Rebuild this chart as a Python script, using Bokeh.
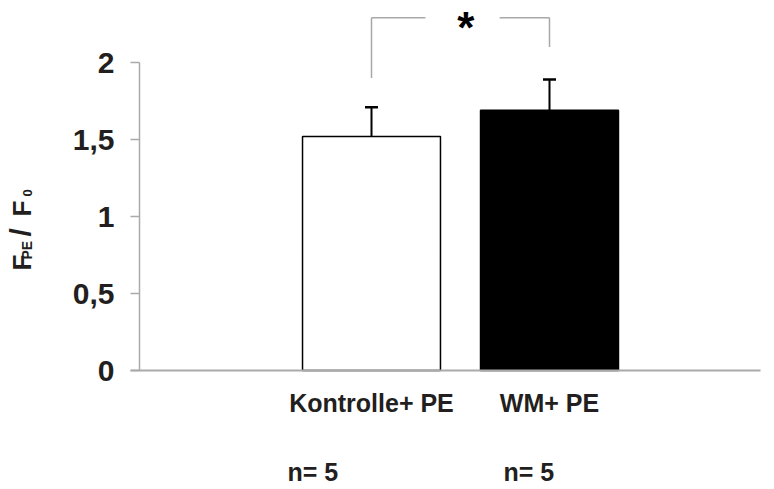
import math
from bokeh.plotting import figure
from bokeh.models import Range1d, FixedTicker, Whisker, ColumnDataSource, Label, TeeHead
from bokeh.embed import file_html
from bokeh.resources import INLINE

categories = ["Kontrolle+ PE", "WM+ PE"]
n_labels = ["n= 5", "n= 5"]
means = [1.52, 1.69]
errors = [0.19, 0.20]
fills = ["white", "black"]
xpos = [1, 2]
y_ticks = [0, 0.5, 1, 1.5, 2]
y_tick_labels = ["0", "0,5", "1", "1,5", "2"]
sig_left_bottom = 1.90
sig_right_bottom = 2.10
sig_top = 2.29

W, H = 774, 489
# pixel scale: x=1 at px 371, 178 px per category; y=0 at px 370, 154 px per unit
XS, YS = 178.0, 154.0
x0 = 1 - 371 / XS
y_top = 370 / YS


def dx(px):
    return x0 + px / XS


def dy(py):
    return (370 - py) / YS


p = figure(width=W, height=H, output_backend="svg", toolbar_location=None,
           x_range=Range1d(x0, x0 + W / XS), y_range=Range1d(y_top - H / YS, y_top),
           min_border_left=0, min_border_right=0, min_border_top=0, min_border_bottom=0)
p.outline_line_color = None
p.grid.grid_line_color = None

font = "Liberation Sans"
dark = "#231f20"

ya = p.yaxis[0]
ya.fixed_location = dx(139)
ya.ticker = FixedTicker(ticks=y_ticks)
ya.major_label_overrides = {t: l for t, l in zip(y_ticks, y_tick_labels)}
ya.bounds = (0, 2)
ya.axis_line_color = "#aaaaaa"
ya.axis_line_width = 1.5
ya.major_tick_line_color = "#aaaaaa"
ya.major_tick_line_width = 1.5
ya.major_tick_out = 9
ya.major_tick_in = 0
ya.minor_tick_line_color = None
ya.major_label_text_font = font
ya.major_label_text_font_style = "bold"
ya.major_label_text_font_size = "30px"
ya.major_label_text_color = dark
ya.major_label_standoff = 16

xa = p.xaxis[0]
xa.fixed_location = 0
xa.bounds = (dx(130), dx(760))
xa.ticker = FixedTicker(ticks=xpos)
xa.major_label_overrides = {x: c for x, c in zip(xpos, categories)}
xa.axis_line_color = "#aaaaaa"
xa.axis_line_width = 2
xa.major_tick_line_color = None
xa.minor_tick_line_color = None
xa.major_label_text_font = font
xa.major_label_text_font_style = "bold"
xa.major_label_text_font_size = "25px"
xa.major_label_text_color = dark
xa.major_label_standoff = 12

src = ColumnDataSource(dict(x=xpos, top=means, fill=fills,
                            upper=[m + e for m, e in zip(means, errors)]))
p.vbar(x="x", top="top", bottom=0, width=0.775, source=src, fill_color="fill",
       line_color="black", line_width=1.5)

wh = Whisker(base="x", lower="top", upper="upper", source=src, dimension="height",
             line_color="black", line_width=2,
             upper_head=TeeHead(size=13, line_color="black", line_width=2.5), lower_head=None)
p.add_layout(wh)

g = "#a8a8a8"
p.segment(x0=[1, 2, 1, 1.72], y0=[sig_left_bottom, sig_right_bottom, sig_top, sig_top],
          x1=[1, 2, 1.303, 2], y1=[sig_top, sig_top, sig_top, sig_top],
          line_color=g, line_width=1.5)
p.add_layout(Label(x=1.53, y=sig_top - 0.225, text="*", text_font=font, text_font_style="bold",
                   text_font_size="44px", text_align="center", text_color="black"))

for xv, nl, off in zip(xpos, n_labels, [-84, -46]):
    p.add_layout(Label(x=xv, y=dy(471), x_offset=off,
                       text=nl, text_font=font, text_font_style="bold",
                       text_font_size="25px", text_align="left", text_baseline="alphabetic",
                       text_color=dark))

# y axis label: F_PE / F_0, rotated (text, size, offset along axis, baseline px)
pieces = [("F", "26px", 0, 21), ("PE", "14px", 11, 26.5), ("/", "30px", 34, 20),
          ("F", "26px", 54, 21), ("0", "13px", 74, 27)]
for txt, fs, off, bx in pieces:
    p.add_layout(Label(x=dx(bx), y=dy(270 - off), text=txt, text_font=font,
                       text_font_style="bold", text_font_size=fs, angle=math.pi / 2,
                       text_align="left", text_baseline="alphabetic", text_color=dark))

open("out.html", "w").write(file_html(p, INLINE))
